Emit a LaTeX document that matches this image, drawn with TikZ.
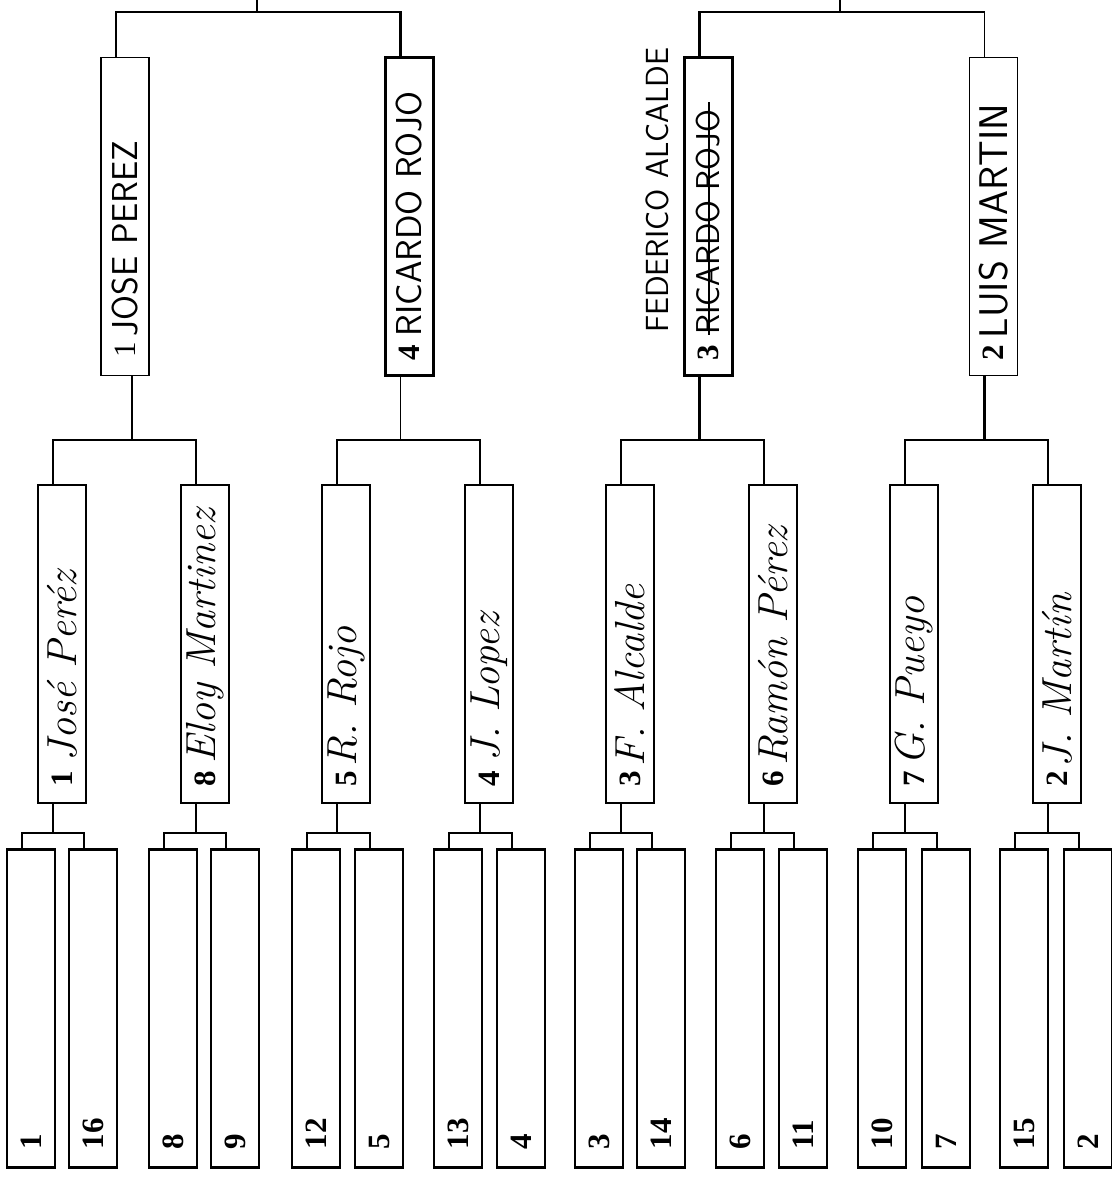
\documentclass[tikz,border=0pt]{standalone}
\usepackage{fontspec}
\newfontfamily\seedfont{Liberation Serif}
\begin{document}
\begin{tikzpicture}[x=1pt,y=-1pt,
    brBox/.style={rectangle,draw=black,line width=2.2pt,minimum width=48pt,minimum height=318pt,inner sep=0pt},
    brSeed/.style={rotate=90,anchor=west,inner sep=0pt,font=\seedfont\bfseries\fontsize{31}{31}\selectfont},
    brName/.style={rotate=90,anchor=west,inner sep=0pt,font=\itshape\fontsize{42}{42}\selectfont},
    brCaps/.style={rotate=90,anchor=west,inner sep=0pt,font=\sffamily\fontsize{36}{36}\selectfont},
    brLn/.style={line width=2.6pt},
    brThin/.style={line width=1.3pt},
]
\useasboundingbox (0,0) rectangle (1111,1180);
% Semifinal boxes
\node[brBox,line width=1.4pt] (s1) at (125,216.5) {};
\node[brBox,line width=2.6pt] (s4) at (409.5,216.5) {};
\node[brBox,line width=2.6pt] (s3) at (708.5,216.5) {};
\node[brBox,line width=1.8pt] (s2) at (993.5,216.5) {};
\node[brSeed,font=\seedfont\fontsize{31}{31}\selectfont] (s1-sd) at ([yshift=19pt]s1.south) {1};
\node[brCaps] (s1-nm) at ([yshift=5pt]s1-sd.east) {JOSE PEREZ};
\node[brSeed] (s4-sd) at ([yshift=16pt]s4.south) {4};
\node[brCaps] (s4-nm) at ([yshift=8pt]s4-sd.east) {RICARDO ROJO};
\node[brSeed] (s3-sd) at ([yshift=16pt]s3.south) {3};
\node[brCaps,font=\sffamily\fontsize{33}{33}\selectfont] (s3-nm) at ([yshift=10pt]s3-sd.east) {RICARDO ROJO};
\node[brCaps,font=\sffamily\fontsize{32}{32}\selectfont] (s3-fix) at (657,333) {FEDERICO ALCALDE};
\node[brSeed] (s2-sd) at ([yshift=16pt]s2.south) {2};
\node[brCaps,font=\sffamily\fontsize{40}{40}\selectfont] (s2-nm) at ([yshift=6pt]s2-sd.east) {LUIS MARTIN};
\draw[line width=2pt] (s3-nm.west) -- ([yshift=8pt]s3-nm.east);
% Quarterfinal boxes
\node[brBox,line width=2.6pt] (q1) at (62,644) {};
\node[brBox,line width=2.6pt] (q8) at (205,644) {};
\node[brBox,line width=2.6pt] (q5) at (346,644) {};
\node[brBox,line width=2.6pt] (q4) at (489,644) {};
\node[brBox,line width=2.6pt] (q3) at (630,644) {};
\node[brBox,line width=2.6pt] (q6) at (773,644) {};
\node[brBox,line width=2.6pt] (q7) at (914,644) {};
\node[brBox,line width=2.6pt] (q2) at (1057,644) {};
\node[brSeed] (q1-sd) at ([yshift=18pt]q1.south) {1};
\node[brName] (q1-nm) at ([yshift=9pt]q1-sd.east) {José Peréz};
\node[brSeed] (q8-sd) at ([yshift=18pt]q8.south) {8};
\node[brName] (q8-nm) at ([yshift=7pt]q8-sd.east) {Eloy Martinez};
\node[brSeed] (q5-sd) at ([yshift=18pt]q5.south) {5};
\node[brName] (q5-nm) at ([yshift=4pt]q5-sd.east) {R. Rojo};
\node[brSeed] (q4-sd) at ([yshift=18pt]q4.south) {4};
\node[brName] (q4-nm) at ([yshift=9pt]q4-sd.east) {J. Lopez};
\node[brSeed] (q3-sd) at ([yshift=18pt]q3.south) {3};
\node[brName] (q3-nm) at ([yshift=4pt]q3-sd.east) {F. Alcalde};
\node[brSeed] (q6-sd) at ([yshift=18pt]q6.south) {6};
\node[brName] (q6-nm) at ([yshift=5pt]q6-sd.east) {Ramón Pérez};
\node[brSeed] (q7-sd) at ([yshift=18pt]q7.south) {7};
\node[brName] (q7-nm) at ([yshift=5pt]q7-sd.east) {G. Pueyo};
\node[brSeed] (q2-sd) at ([yshift=18pt]q2.south) {2};
\node[brName] (q2-nm) at ([yshift=3pt]q2-sd.east) {J. Martín};
% First round boxes
\node[brBox] (r1) at (31,1008.5) {};
\node[brBox] (r16) at (93,1008.5) {};
\node[brBox] (r8) at (173,1008.5) {};
\node[brBox] (r9) at (235,1008.5) {};
\node[brBox] (r12) at (316,1008.5) {};
\node[brBox] (r5) at (379,1008.5) {};
\node[brBox] (r13) at (458,1008.5) {};
\node[brBox] (r4) at (521,1008.5) {};
\node[brBox] (r3) at (599,1008.5) {};
\node[brBox] (r14) at (661,1008.5) {};
\node[brBox] (r6) at (740,1008.5) {};
\node[brBox] (r11) at (803,1008.5) {};
\node[brBox] (r10) at (882,1008.5) {};
\node[brBox] (r7) at (946,1008.5) {};
\node[brBox] (r15) at (1024,1008.5) {};
\node[brBox] (r2) at (1088,1008.5) {};
\node[brSeed] (r1-sd) at ([yshift=19pt]r1.south) {1};
\node[brSeed] (r16-sd) at ([yshift=19pt]r16.south) {16};
\node[brSeed] (r8-sd) at ([yshift=19pt]r8.south) {8};
\node[brSeed] (r9-sd) at ([yshift=19pt]r9.south) {9};
\node[brSeed] (r12-sd) at ([yshift=19pt]r12.south) {12};
\node[brSeed] (r5-sd) at ([yshift=19pt]r5.south) {5};
\node[brSeed] (r13-sd) at ([yshift=19pt]r13.south) {13};
\node[brSeed] (r4-sd) at ([yshift=19pt]r4.south) {4};
\node[brSeed] (r3-sd) at ([yshift=19pt]r3.south) {3};
\node[brSeed] (r14-sd) at ([yshift=19pt]r14.south) {14};
\node[brSeed] (r6-sd) at ([yshift=19pt]r6.south) {6};
\node[brSeed] (r11-sd) at ([yshift=19pt]r11.south) {11};
\node[brSeed] (r10-sd) at ([yshift=19pt]r10.south) {10};
\node[brSeed] (r7-sd) at ([yshift=19pt]r7.south) {7};
\node[brSeed] (r15-sd) at ([yshift=19pt]r15.south) {15};
\node[brSeed] (r2-sd) at ([yshift=19pt]r2.south) {2};
% Junctions
\coordinate (tL) at (257,0);
\coordinate (tR) at (840,0);
\coordinate (kTL) at (257,12);
\coordinate (kTR) at (840,12);
\coordinate (kA) at (132,440);
\coordinate (kB) at (400.5,440);
\coordinate (kC) at (699.5,440);
\coordinate (kD) at (984.5,440);
\coordinate (k1) at (53,833);
\coordinate (k2) at (196,833);
\coordinate (k3) at (337,833);
\coordinate (k4) at (480,833);
\coordinate (k5) at (621,833);
\coordinate (k6) at (764,833);
\coordinate (k7) at (905,833);
\coordinate (k8) at (1048,833);
% Final brackets
\draw[brLn] (tL) -- (kTL);
\draw[brLn] ([xshift=-9pt]s1.north) |- (kTL);
\draw[brLn] (kTL) -| ([xshift=-9pt]s4.north);
\draw[brThin] (tR) -- (kTR);
\draw[brLn] ([xshift=-9pt]s3.north) |- (kTR);
\draw[brThin] (kTR) -| ([xshift=-9pt]s2.north);
% Semifinal brackets
\draw[brThin] ([xshift=7pt]s1.south) -- (kA);
\draw[brLn] ([xshift=-9pt]q1.north) |- (kA) -| ([xshift=-9pt]q8.north);
\draw[brThin] ([xshift=-9pt]s4.south) -- (kB);
\draw[brThin] ([xshift=-9pt]q5.north) |- (kB) -| ([xshift=-9pt]q4.north);
\draw[brLn] ([xshift=-9pt]s3.south) -- (kC);
\draw[brLn] ([xshift=-9pt]q3.north) |- (kC) -| ([xshift=-9pt]q6.north);
\draw[brLn] ([xshift=-9pt]s2.south) -- (kD);
\draw[brLn] ([xshift=-9pt]q7.north) |- (kD) -| ([xshift=-9pt]q2.north);
% Quarterfinal brackets
\draw[brThin] ([xshift=-9pt]q1.south) -- (k1);
\draw[brLn] ([xshift=-9pt]r1.north) |- (k1) -| ([xshift=-9pt]r16.north);
\draw[brThin] ([xshift=-9pt]q8.south) -- (k2);
\draw[brLn] ([xshift=-9pt]r8.north) |- (k2) -| ([xshift=-9pt]r9.north);
\draw[brThin] ([xshift=-9pt]q5.south) -- (k3);
\draw[brLn] ([xshift=-9pt]r12.north) |- (k3) -| ([xshift=-9pt]r5.north);
\draw[brThin] ([xshift=-9pt]q4.south) -- (k4);
\draw[brLn] ([xshift=-9pt]r13.north) |- (k4) -| ([xshift=-9pt]r4.north);
\draw[brLn] ([xshift=-9pt]q3.south) -- (k5);
\draw[brLn] ([xshift=-9pt]r3.north) |- (k5) -| ([xshift=-9pt]r14.north);
\draw[brLn] ([xshift=-9pt]q6.south) -- (k6);
\draw[brLn] ([xshift=-9pt]r6.north) |- (k6) -| ([xshift=-9pt]r11.north);
\draw[brLn] ([xshift=-9pt]q7.south) -- (k7);
\draw[brLn] ([xshift=-9pt]r10.north) |- (k7) -| ([xshift=-9pt]r7.north);
\draw[brLn] ([xshift=-9pt]q2.south) -- (k8);
\draw[brLn] ([xshift=-9pt]r15.north) |- (k8) -| ([xshift=-9pt]r2.north);
\end{tikzpicture}
\end{document}
